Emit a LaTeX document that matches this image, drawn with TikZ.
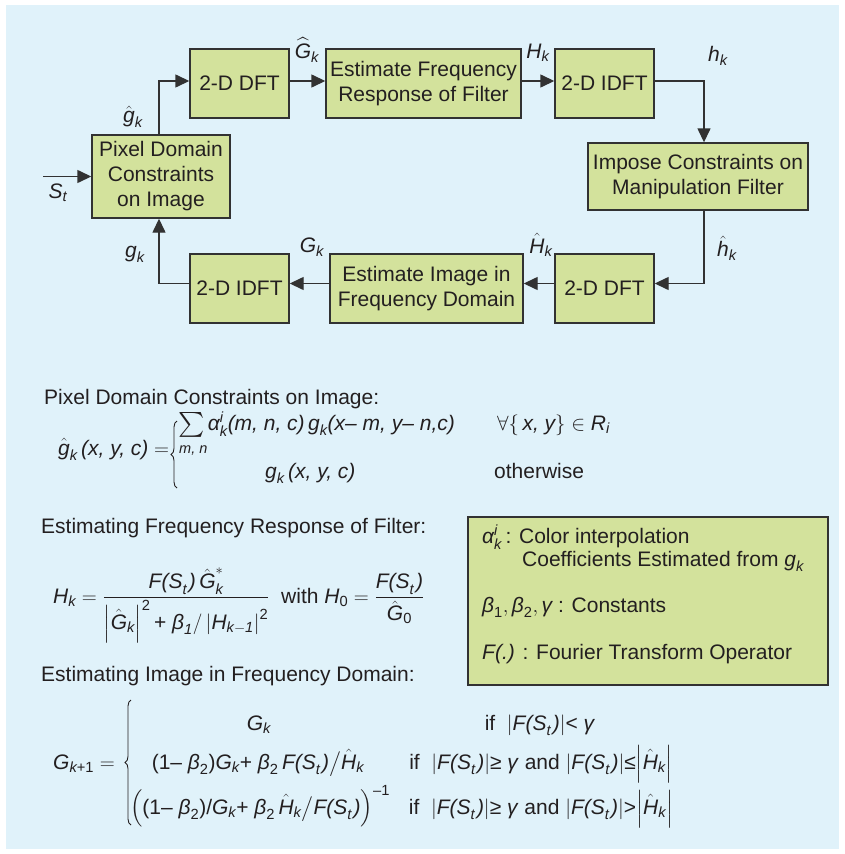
\documentclass[tikz,border=0pt]{standalone}
\usepackage{amsmath}
\usepackage{fontspec}
\setmainfont{Liberation Sans}
\usetikzlibrary{arrows.meta,decorations.pathreplacing}
\definecolor{bgblue}{RGB}{224,242,250}
\definecolor{boxgreen}{RGB}{211,226,156}
\definecolor{ink}{RGB}{35,31,32}
\definecolor{edgec}{RGB}{50,50,50}
\newcommand\mi[1]{\text{\itshape #1}}
\newcommand\tx[1]{\text{#1}}
\newcommand\FS{\mi{F(S}_{\mi{t}}\mkern1.5mu\mi{)}}
\begin{document}
\begin{tikzpicture}[x=1pt,y=-1pt,
  every node/.style={font=\fontsize{21}{25}\selectfont, text=ink},
  box/.style={draw=edgec, line width=1.4pt, fill=boxgreen, align=center, inner sep=0pt},
  arr/.style={draw=edgec, line width=1.4pt, -{Triangle[length=14pt,width=13pt]}},
  brc/.style={draw=ink, line width=0.9pt, decorate, decoration={brace, amplitude=6pt}},
  lbl/.style={inner sep=0pt},
  txt/.style={inner sep=0pt, anchor=base west}]
\useasboundingbox (0,0) rectangle (844,854);
\fill[bgblue] (6,5) rectangle (839,849);

% --- block diagram ---
\node[box, minimum width=138pt, minimum height=83pt] (pix) at (161,176.5) {Pixel Domain\\Constraints\\on Image};
\node[box, minimum width=99pt, minimum height=69pt] (dft1) at (239.5,83.5) {2-D DFT};
\node[box, minimum width=195pt, minimum height=69pt] (est1) at (423.5,83.5) {Estimate Frequency\\Response of Filter};
\node[box, minimum width=99pt, minimum height=69pt] (idft1) at (604.5,83.5) {2-D IDFT};
\node[box, minimum width=220pt, minimum height=67pt] (imp) at (698,176.5) {Impose Constraints on\\Manipulation Filter};
\node[box, minimum width=99pt, minimum height=69pt] (dft2) at (604.5,288.5) {2-D DFT};
\node[box, minimum width=193pt, minimum height=69pt] (est2) at (426.5,288.5) {Estimate Image in\\Frequency Domain};
\node[box, minimum width=99pt, minimum height=69pt] (idft2) at (239.5,288.5) {2-D IDFT};

\coordinate (sin) at (43,176.5);
\draw[arr] (sin) -- (pix.west);
\draw[arr] ([xshift=-2pt]pix.north) |- ([yshift=2.5pt]dft1.west);
\draw[arr] ([yshift=2.5pt]dft1.east) -- ([yshift=2.5pt]est1.west);
\draw[arr] ([yshift=2.5pt]est1.east) -- ([yshift=2.5pt]idft1.west);
\draw[arr] ([yshift=2.5pt]idft1.east) -| ([xshift=6pt]imp.north);
\draw[arr] ([xshift=6pt]imp.south) |- ([yshift=5pt]dft2.east);
\draw[arr] ([yshift=5pt]dft2.west) -- ([yshift=5pt]est2.east);
\draw[arr] ([yshift=5pt]est2.west) -- ([yshift=5pt]idft2.east);
\draw[arr] ([yshift=5pt]idft2.west) -| ([xshift=-2pt]pix.south);

\node[lbl] (lSt) at (58,193) {$\mi{S}_{\mi{t}}$};
\node[lbl] (lgh) at (133,117) {$\hat{\mi{g}}_{\mi{k}}$};
\node[lbl] (lGh) at (307,50) {$\widehat{\mi{G}}_{\mi{k}}$};
\node[lbl] (lH) at (538,53) {$\mi{H}_{\mi{k}}$};
\node[lbl] (lh) at (718,56) {$\mi{h}_{\mi{k}}$};
\node[lbl] (lhh) at (727,248) {$\hat{\mi{h}}_{\mi{k}}$};
\node[lbl] (lHh) at (541,245) {$\hat{\mi{H}}_{\mi{k}}$};
\node[lbl] (lG) at (312,247) {$\mi{G}_{\mi{k}}$};
\node[lbl] (lg) at (135,254) {$\mi{g}_{\mi{k}}$};

% --- equation 1 ---
\node[txt] (h1) at (44,404) {Pixel Domain Constraints on Image:};
\node[txt] (e1l) at (58,455) {$\hat{\mi{g}}_{\mi{k}}\,\mi{(x, y, c)} =$};
\coordinate (e1bb) at (177,488);
\coordinate (e1bt) at (177,421);
\draw[brc] (e1bb) -- (e1bt);
\node[txt] (e1r1) at (178,430) {$\mathop{\vcenter{\hbox{\scalebox{1.2}{$\sum$}}}}\nolimits\mi{α}^{\mi{i}}_{\mi{k}}\mi{(m, n, c)}\,\mi{g}_{\mi{k}}\mi{(x– m, y– n,c)}$};
\node[txt, font=\fontsize{14.5}{16}\selectfont\itshape] (e1lim) at (179,453) {m, n};
\node[txt] (e1c1) at (497,430) {$\forall\{\,\mi{x, y}\}\in \mi{R}_{\mi{i}}$};
\node[txt] (e1r2) at (265,478) {$\mi{g}_{\mi{k}}\,\mi{(x, y, c)}$};
\node[txt] (e1c2) at (494,478) {otherwise};

% --- equation 2 ---
\node[txt] (h2) at (41,533) {Estimating Frequency Response of Filter:};
\node[txt] (e2) at (53,603) {$\mi{H}_{\mi{k}} = \dfrac{\FS\,\hat{\mi{G}}^{*}_{\mi{k}}}{\left|\hat{\mi{G}}_{\mi{k}}\right|^{\tx{2}}\tx{+ }\mi{β}_{\mi{1}}/\left|\mi{H}_{\mi{k}-\mi{1}}\right|^{\tx{2}}}$\ \ with $\mi{H}_{\tx{0}} = \dfrac{\FS}{\hat{\mi{G}}_{\tx{0}}}$};

% --- equation 3 ---
\node[txt] (h3) at (41,681) {Estimating Image in Frequency Domain:};
\node[txt] (e3l) at (53,769) {$\mi{G}_{\mi{k}\tx{+1}} =$};
\coordinate (e3bb) at (131,825);
\coordinate (e3bt) at (131,700);
\draw[brc] (e3bb) -- (e3bt);
\node[lbl, anchor=base] (e3r1) at (259,730) {$\mi{G}_{\mi{k}}$};
\node[lbl, anchor=base] (e3c1) at (540,730) {if \ $\left|\FS\right|$< \textit{γ}};
\node[lbl, anchor=base] (e3r2) at (258,769) {$\tx{(1– }\mi{β}_{\tx{2}}\tx{)}\mi{G}_{\mi{k}}\tx{+ }\mi{β}_{\tx{2}}\,\FS\big/\hat{\mi{H}}_{\mi{k}}$};
\node[lbl, anchor=base] (e3c2) at (541,769) {if \ $\left|\FS\right|$≥ \textit{γ} and $\left|\FS\right|$≤$\left|\hat{\mi{H}}_{\mi{k}}\right|$};
\node[lbl, anchor=base] (e3r3) at (260,814) {$\Big(\tx{(1– }\mi{β}_{\tx{2}}\tx{)/}\mi{G}_{\mi{k}}\tx{+ }\mi{β}_{\tx{2}}\,\hat{\mi{H}}_{\mi{k}}\big/\FS\Big)^{\tx{–1}}$};
\node[lbl, anchor=base] (e3c3) at (541,814) {if \ $\left|\FS\right|$≥ \textit{γ} and $\left|\FS\right|$>$\left|\hat{\mi{H}}_{\mi{k}}\right|$};

% --- legend ---
\node[box, minimum width=360pt, minimum height=168pt] (legend) at (648,601) {};
\node[txt] (lg1) at (482,543) {$\mi{α}^{\mi{i}}_{\mi{k}}$\,: Color interpolation};
\node[txt] (lg2) at (522,566) {Coefficients Estimated from $\mi{g}_{\mi{k}}$};
\node[txt] (lg3) at (482,612) {$\mi{β}_{\tx{1}}, \mi{β}_{\tx{2}}, \mi{γ}$ : Constants};
\node[txt] (lg4) at (482,659) {\textit{F(.)} : Fourier Transform Operator};
\end{tikzpicture}
\end{document}
